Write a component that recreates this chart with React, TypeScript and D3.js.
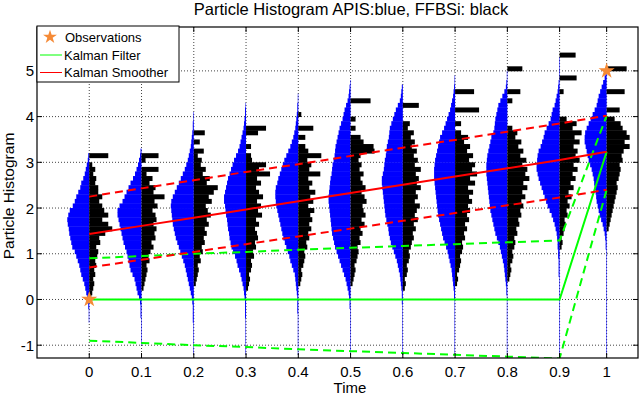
import React from "react";
import * as d3 from "d3";

// time points (last one sits a bit before 1 on the axis)
const times = [0, 0.1, 0.2, 0.3, 0.4, 0.5, 0.6, 0.7, 0.8, 0.9, 0.99];
const xTickLabels = ["0", "0.1", "0.2", "0.3", "0.4", "0.5", "0.6", "0.7", "0.8", "0.9", "1"];
const yTicks = [-1, 0, 1, 2, 3, 4, 5];

const binSize = 0.1;

// APIS histograms (blue, drawn to the left), counts per bin from lowest bin upwards
const apisLo = [-0.5, -1.0, -1.2, -1.2, -1.2, -1.2, -1.2, -1.2, -1.2, -1.2, -1.2];
const apis0 = [1, 1, 1, 2, 2, 4, 6, 8, 10, 13, 16, 18, 20, 23, 26, 29, 34, 36, 38, 40, 41, 43, 44, 42, 39, 33, 29, 26, 22, 18, 16, 12, 9, 7, 5, 3, 2];
const apis1 = [1, 1, 1, 1, 1, 1, 2, 2, 2, 3, 5, 8, 10, 12, 14, 18, 22, 24, 26, 28, 30, 33, 36, 38, 40, 42, 44, 46, 48, 48, 44, 38, 34, 30, 26, 22, 17, 13, 10, 7, 5, 3, 2];
const apis2 = [1, 1, 1, 1, 1, 1, 1, 2, 2, 2, 2, 3, 4, 6, 8, 10, 12, 14, 16, 18, 21, 24, 27, 30, 33, 36, 38, 40, 42, 43, 44, 45, 46, 45, 42, 38, 34, 30, 26, 22, 18, 15, 12, 10, 8, 6, 5, 4, 3, 2, 2, 1, 1];
const apis3 = [1, 1, 1, 1, 1, 1, 1, 1, 2, 2, 2, 2, 3, 4, 5, 7, 9, 11, 14, 17, 19, 22, 26, 29, 31, 33, 34, 36, 37, 38, 40, 41, 42, 44, 44, 42, 40, 38, 36, 33, 30, 27, 24, 20, 16, 13, 11, 9, 7, 5, 4, 3, 2, 2, 1];
const apis4 = [1, 1, 1, 1, 1, 1, 1, 1, 1, 2, 2, 2, 2, 3, 4, 5, 6, 7, 10, 13, 16, 18, 21, 24, 27, 30, 32, 34, 36, 38, 40, 42, 44, 45, 46, 46, 45, 42, 40, 37, 34, 31, 28, 24, 20, 16, 13, 10, 8, 6, 5, 4, 3, 2, 2, 1, 1];
const apis5 = [1, 1, 1, 1, 1, 1, 1, 1, 1, 1, 2, 2, 3, 4, 6, 8, 10, 13, 16, 19, 22, 25, 28, 31, 33, 35, 37, 38, 39, 40, 41, 42, 43, 44, 44, 43, 42, 41, 40, 38, 37, 36, 34, 32, 31, 30, 28, 26, 24, 22, 19, 16, 14, 12, 9, 6, 4, 3, 2, 1];
const apis6 = [1, 1, 1, 1, 1, 1, 1, 1, 1, 1, 1, 2, 2, 2, 3, 4, 5, 6, 8, 10, 12, 15, 18, 21, 24, 26, 28, 29, 31, 33, 35, 36, 37, 38, 39, 40, 41, 42, 42, 40, 38, 37, 36, 34, 33, 32, 30, 28, 27, 26, 23, 20, 17, 14, 10, 6, 4, 3, 2];
const apis7 = [1, 1, 1, 1, 1, 1, 1, 1, 1, 1, 1, 1, 2, 2, 3, 4, 5, 6, 7, 9, 11, 13, 15, 18, 21, 24, 26, 28, 30, 32, 34, 35, 36, 37, 38, 39, 40, 41, 42, 42, 42, 41, 40, 38, 36, 34, 32, 30, 26, 22, 19, 16, 13, 10, 8, 6, 4, 3, 2, 1, 1];
const apis8 = [1, 1, 1, 1, 1, 1, 1, 1, 1, 1, 1, 1, 1, 2, 2, 3, 4, 5, 6, 7, 9, 11, 13, 15, 18, 21, 24, 26, 28, 30, 32, 34, 35, 36, 37, 38, 39, 40, 41, 42, 42, 42, 41, 40, 38, 36, 34, 32, 28, 26, 25, 24, 22, 20, 18, 14, 10, 6, 3, 2, 1, 1];
const apis9 = [1, 1, 1, 1, 1, 1, 1, 1, 1, 1, 1, 1, 1, 1, 1, 1, 1, 2, 2, 2, 2, 3, 3, 4, 4, 5, 6, 8, 10, 13, 16, 20, 24, 27, 30, 33, 36, 39, 42, 44, 46, 46, 45, 44, 42, 38, 35, 32, 30, 26, 22, 18, 16, 14, 10, 8, 6, 4, 3, 2, 1, 1, 1, 1, 1];
const apis10 = [1, 1, 1, 1, 1, 1, 1, 1, 1, 1, 1, 1, 1, 1, 1, 1, 1, 1, 1, 1, 1, 1, 1, 2, 2, 3, 4, 6, 8, 11, 14, 16, 18, 20, 21, 22, 24, 25, 26, 28, 30, 33, 36, 38, 40, 42, 44, 44, 43, 40, 36, 32, 28, 24, 20, 18, 16, 13, 10, 7, 4, 2];
const apisHist = [apis0, apis1, apis2, apis3, apis4, apis5, apis6, apis7, apis8, apis9, apis10];

// FFBSi histograms (black, drawn to the right)
const ffbsiLo = [0.0, 0.2, 0.3, 0.2, 0.3, 0.3, 0.2, 0.3, 0.4, 1.1, 1.5];
const ffbsi0 = [4, 6, 8, 10, 8, 12, 10, 14, 12, 16, 18, 14, 22, 20, 32, 46, 38, 26, 38, 30, 26, 20, 26, 18, 18, 12, 14, 8, 12, 6, 0, 38];
const ffbsi1 = [4, 6, 8, 10, 12, 10, 16, 14, 18, 24, 20, 28, 26, 30, 24, 30, 28, 22, 32, 26, 46, 24, 28, 16, 22, 10, 34, 0, 8, 34];
const ffbsi2 = [4, 6, 8, 10, 8, 14, 12, 18, 16, 22, 20, 26, 22, 30, 26, 34, 28, 24, 36, 30, 40, 48, 26, 32, 18, 24, 14, 16, 8, 20, 0, 12, 0, 22];
const ffbsi3 = [4, 6, 8, 6, 10, 12, 10, 16, 14, 20, 18, 24, 22, 18, 26, 20, 32, 24, 30, 22, 34, 26, 20, 30, 22, 48, 26, 40, 12, 10, 0, 10, 0, 0, 24, 40];
const ffbsi4 = [4, 6, 8, 6, 10, 12, 14, 12, 18, 16, 22, 20, 26, 22, 28, 24, 32, 20, 30, 24, 34, 22, 28, 20, 44, 22, 26, 18, 46, 20, 14, 0, 14, 0, 30, 0, 0, 6];
const ffbsi5 = [4, 6, 8, 10, 8, 12, 14, 16, 14, 20, 18, 24, 20, 28, 22, 30, 26, 24, 32, 28, 22, 30, 24, 20, 26, 18, 22, 16, 20, 48, 46, 26, 20, 0, 10, 0, 10, 0, 0, 0, 40];
const ffbsi6 = [4, 6, 4, 8, 10, 8, 12, 14, 12, 16, 18, 22, 20, 26, 22, 30, 24, 28, 34, 24, 30, 26, 36, 28, 32, 26, 36, 24, 30, 22, 28, 18, 24, 16, 22, 10, 14, 0, 0, 0, 32];
const ffbsi7 = [4, 6, 4, 8, 10, 12, 10, 14, 16, 14, 20, 18, 24, 20, 28, 24, 30, 26, 34, 28, 36, 26, 40, 30, 44, 34, 40, 28, 36, 24, 30, 18, 26, 12, 0, 12, 0, 0, 48, 0, 0, 0, 38];
const ffbsi8 = [4, 6, 8, 6, 10, 12, 10, 14, 16, 14, 20, 18, 24, 22, 28, 26, 32, 28, 36, 30, 40, 32, 44, 36, 40, 30, 38, 26, 32, 22, 28, 16, 20, 10, 0, 0, 0, 0, 0, 10, 0, 26, 0, 0, 0, 0, 30];
const ffbsi9 = [4, 6, 4, 8, 10, 12, 10, 16, 14, 20, 16, 24, 18, 28, 22, 32, 26, 36, 28, 40, 32, 36, 28, 40, 30, 44, 26, 34, 14, 0, 0, 0, 0, 0, 8, 0, 0, 34, 0, 0, 0, 0, 32];
const ffbsi10 = [4, 6, 8, 10, 12, 14, 16, 18, 20, 22, 20, 24, 26, 28, 26, 32, 30, 34, 46, 36, 46, 40, 32, 28, 16, 0, 26, 0, 0, 0, 36, 0, 0, 0, 0, 40];
const ffbsiHist = [ffbsi0, ffbsi1, ffbsi2, ffbsi3, ffbsi4, ffbsi5, ffbsi6, ffbsi7, ffbsi8, ffbsi9, ffbsi10];

// Kalman smoother mean and band
const smootherMean = [1.43, 1.61, 1.79, 1.97, 2.15, 2.33, 2.51, 2.69, 2.87, 3.05, 3.23];
const smootherUpper = [2.25, 2.43, 2.61, 2.79, 2.96, 3.14, 3.32, 3.49, 3.67, 3.85, 4.02];
const smootherLower = [0.7, 0.87, 1.04, 1.21, 1.38, 1.55, 1.72, 1.89, 2.06, 2.23, 2.4];

// Kalman filter mean and band
const filterMean = [0, 0, 0, 0, 0, 0, 0, 0, 0, 0, 3.23];
const filterUpper = [0.9, 0.95, 1.0, 1.04, 1.09, 1.13, 1.17, 1.21, 1.25, 1.29, 4.02];
const filterLower = [-0.9, -0.95, -1.0, -1.04, -1.09, -1.13, -1.17, -1.21, -1.25, -1.29, 2.4];

// observations
const obsTimes = [0, 0.99];
const obsValues = [0, 5];

const width = 640;
const height = 396;
const left = 37, right = 638, top = 27, bottom = 358;
const font = "'Liberation Sans', Arial, Helvetica, sans-serif";
const starColor = "#f58a36";

const App = () => {
    const x = d3.scaleLinear().domain([-0.1, 1.05]).range([left, right]);
    const y = d3.scaleLinear().domain([-1.28, 5.96]).range([bottom, top]);
    const cnt = d3.scaleLinear().domain([0, 50]).range([0, 25]);
    const line = d3.line<number>()
        .x((d, i) => x(times[i]))
        .y(d => y(d));
    const star = d3.symbol().type(d3.symbolStar).size(80)();
    const starSmall = d3.symbol().type(d3.symbolStar).size(60)();

    const bars = (hist: number[][], lo: number[], color: string, side: number) =>
        hist.map((counts, k) => counts.map((c, i) => {
            if (c <= 0) return null;
            const b0 = lo[k] + i * binSize;
            const y0 = y(b0 + binSize);
            const w = cnt(c);
            const x0 = side < 0 ? x(times[k]) - w : x(times[k]);
            return <rect key={`${color}-${k}-${i}`} x={x0} y={y0} width={w}
                height={y(b0) - y0 + 0.4} fill={color} />;
        }));

    return (
        <svg width={width} height={height}
            style={{ position: "absolute", left: 0, top: 0, background: "#fff" }}
            fontFamily={font}>
            <defs>
                <clipPath id="plotclip">
                    <rect x={left} y={top} width={right - left} height={bottom - top} />
                </clipPath>
            </defs>
            <rect x={0} y={0} width={width} height={height} fill="#fff" />

            {/* grid */}
            <g stroke="#444" strokeWidth={1} strokeDasharray="1,2">
                {times.map((t, i) => <line key={"gx" + i} x1={x(t)} x2={x(t)} y1={top} y2={bottom} />)}
                {yTicks.map(v => <line key={"gy" + v} x1={left} x2={right} y1={y(v)} y2={y(v)} />)}
            </g>

            {/* histograms */}
            <g clipPath="url(#plotclip)">
                {bars(apisHist, apisLo, "#0000ff", -1)}
                {bars(ffbsiHist, ffbsiLo, "#000000", 1)}
            </g>

            {/* Kalman lines */}
            <g clipPath="url(#plotclip)" fill="none" strokeWidth={2}>
                <path d={line(filterMean) ?? ""} stroke="#00ff00" />
                <path d={line(filterUpper) ?? ""} stroke="#00ff00" strokeDasharray="8,5" />
                <path d={line(filterLower) ?? ""} stroke="#00ff00" strokeDasharray="8,5" />
                <path d={line(smootherMean) ?? ""} stroke="#ff0000" />
                <path d={line(smootherUpper) ?? ""} stroke="#ff0000" strokeDasharray="8,5" />
                <path d={line(smootherLower) ?? ""} stroke="#ff0000" strokeDasharray="8,5" />
            </g>

            {/* observations */}
            {obsTimes.map((t, i) => (
                <path key={"obs" + i} d={star ?? ""} fill={starColor}
                    transform={`translate(${x(t)},${y(obsValues[i])})`} />
            ))}

            {/* frame and ticks */}
            <rect x={left} y={top} width={right - left} height={bottom - top} fill="none" stroke="#000" strokeWidth={1.2} />
            <g stroke="#000" strokeWidth={1}>
                {times.map((t, i) => (
                    <g key={"tx" + i}>
                        <line x1={x(t)} x2={x(t)} y1={bottom} y2={bottom - 5} />
                        <line x1={x(t)} x2={x(t)} y1={top} y2={top + 5} />
                    </g>
                ))}
                {yTicks.map(v => (
                    <g key={"ty" + v}>
                        <line x1={left} x2={left + 5} y1={y(v)} y2={y(v)} />
                        <line x1={right} x2={right - 5} y1={y(v)} y2={y(v)} />
                    </g>
                ))}
            </g>

            {/* tick labels */}
            <g fontSize={15} fill="#000">
                {times.map((t, i) => (
                    <text key={"lx" + i} x={x(t)} y={377} textAnchor="middle">{xTickLabels[i]}</text>
                ))}
                {yTicks.map(v => (
                    <text key={"ly" + v} x={34} y={y(v) + 5.5} textAnchor="end">{v}</text>
                ))}
            </g>

            {/* titles */}
            <text x={351} y={15} textAnchor="middle" fontSize={16.5}>Particle Histogram APIS:blue, FFBSi: black</text>
            <text x={350} y={393} textAnchor="middle" fontSize={15}>Time</text>
            <text transform="translate(14,196) rotate(-90)" textAnchor="middle" fontSize={15.5}>Particle Histogram</text>

            {/* legend */}
            <g>
                <rect x={left} y={26} width={142} height={56} fill="#fff" stroke="#000" strokeWidth={1} />
                <path d={starSmall ?? ""} fill={starColor} transform="translate(50,37)" />
                <line x1={40} x2={62} y1={55} y2={55} stroke="#00ff00" strokeWidth={1} />
                <line x1={40} x2={62} y1={72.5} y2={72.5} stroke="#ff0000" strokeWidth={1} />
                <g fontSize={13} fill="#000">
                    <text x={65} y={42}>Observations</text>
                    <text x={64} y={60}>Kalman Filter</text>
                    <text x={64} y={77}>Kalman Smoother</text>
                </g>
            </g>
        </svg>
    );
};

export default App;
